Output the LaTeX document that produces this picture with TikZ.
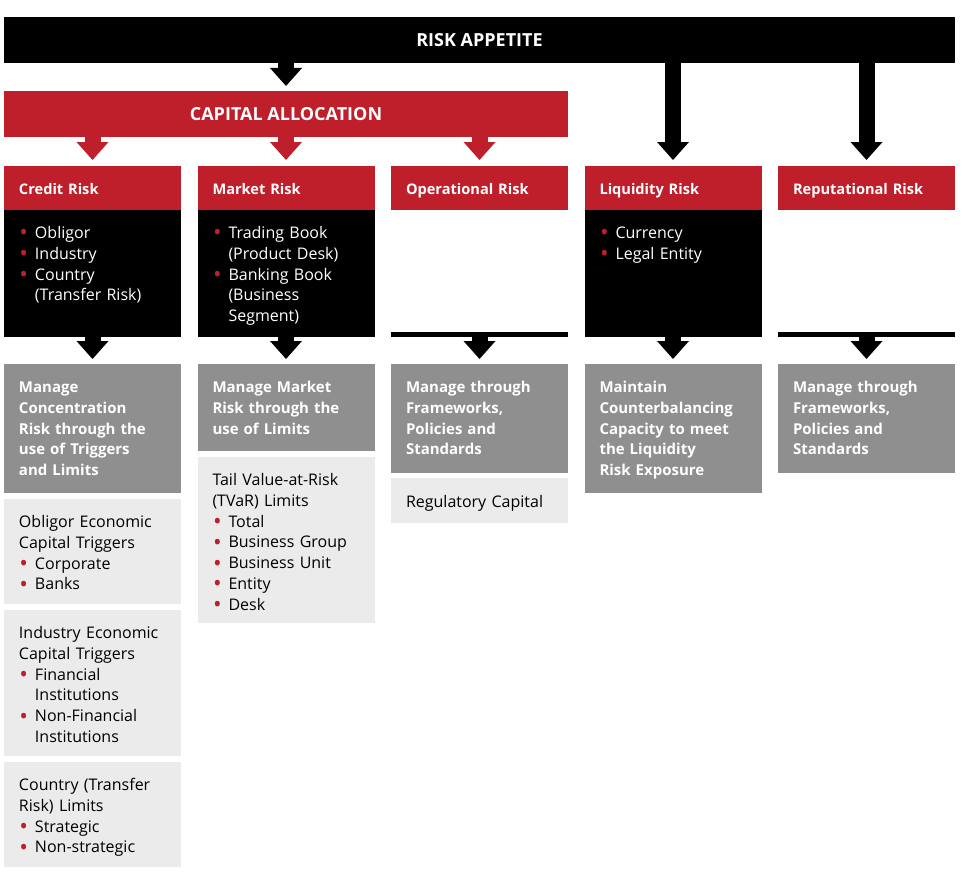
\documentclass[tikz,border=0pt]{standalone}
\usepackage{fontspec}
\setmainfont{Open Sans}
\usepackage{xcolor}
\usepackage{tikz}
\usetikzlibrary{arrows.meta,positioning}
\definecolor{rred}{HTML}{BF1E2B}
\definecolor{mgrey}{HTML}{8F8F8F}
\definecolor{lgrey}{HTML}{EBEBEB}
\newcommand{\rb}{\makebox[16pt][l]{\hspace{0.5pt}\textcolor{rred}{\raisebox{-2.4pt}{\fontsize{23}{23}\selectfont\textbullet}}}}
\newcommand{\ind}{\hspace*{16pt}}
\tikzset{topbar/.style={fill=black, text=white, font=\bfseries\fontsize{18}{22}\selectfont, minimum height=46pt, inner sep=0pt, outer sep=0pt},
         hbox/.style={fill=rred, text=white, font=\bfseries\fontsize{14.6}{20.8}\selectfont, text width=147pt, inner xsep=15pt, inner ysep=0pt, outer sep=0pt, align=left, text height=28.5pt, text depth=15.5pt},
         kbox/.style={hbox, fill=black, font=\fontsize{16}{20.8}\selectfont, text depth=98.5pt},
         kline/.style={fill=black, minimum width=177pt, minimum height=5pt, inner sep=0pt, outer sep=0pt},
         gbox/.style={hbox, fill=mgrey, font=\bfseries\fontsize{15}{20.8}\selectfont},
         lbox/.style={hbox, fill=lgrey, text=black, font=\fontsize{16}{20.8}\selectfont},
         barr/.style={line width=16pt, black, -{Triangle[width=32pt,length=18pt,line width=0pt]}, shorten >=5pt},
         rarr/.style={barr, rred, shorten >=6pt}}
\begin{document}
\begin{tikzpicture}[x=1pt, y=-1pt]
\useasboundingbox (0,0) rectangle (962,875);
\node[topbar, minimum width=951pt] (ra) at (479.5,40) {RISK APPETITE};
\node[topbar, fill=rred, minimum width=564pt] (ca) at (286,114) {CAPITAL ALLOCATION};
% risk headers
\node[hbox, anchor=north west] (cr) at (4,166) {Credit Risk};
\node[hbox, right=16.5pt of cr] (mr) {Market Risk};
\node[hbox, right=16.5pt of mr] (or) {Operational Risk};
\node[hbox, right=16.5pt of or] (lr) {Liquidity Risk};
\node[hbox, right=16.5pt of lr] (rr) {Reputational Risk};
\draw[barr] (ra.south -| ca.north) -- (ca.north);
\draw[rarr] (ca.south -| cr.north) -- (cr.north);
\draw[rarr] (ca.south -| mr.north) -- (mr.north);
\draw[rarr] (ca.south -| or.north) -- (or.north);
\draw[barr, shorten >=6pt] (ra.south -| lr.north) -- (lr.north);
\draw[barr, shorten >=6pt] (ra.south -| rr.north) -- (rr.north);
% dimensions
\node[kbox, below=0pt of cr] (crk) {\rb Obligor\\\rb Industry\\\rb Country\\\ind(Transfer Risk)};
\node[kbox, below=0pt of mr] (mrk) {\rb Trading Book\\\ind(Product Desk)\\\rb Banking Book\\\ind(Business\\\ind Segment)};
\node[kline, below=122pt of or] (ork) {};
\node[kbox, below=0pt of lr] (lrk) {\rb Currency\\\rb Legal Entity};
\node[kline, below=122pt of rr] (rrk) {};
% how it is managed
\node[gbox, text depth=100.5pt, below=27pt of crk] (crg) {Manage\\Concentration\\Risk through the\\use of Triggers\\and Limits};
\node[gbox, text depth=58.5pt, below=27pt of mrk] (mrg) {Manage Market\\Risk through the\\use of Limits};
\node[gbox, text depth=80.5pt, below=27pt of ork] (org) {Manage through\\Frameworks,\\Policies and\\Standards};
\node[gbox, text depth=100.5pt, below=27pt of lrk] (lrg) {Maintain\\Counterbalancing\\Capacity to meet\\the Liquidity\\Risk Exposure};
\node[gbox, text depth=80.5pt, below=27pt of rrk] (rrg) {Manage through\\Frameworks,\\Policies and\\Standards};
\foreach \c in {cr,mr,or,lr,rr}
  \draw[barr] (\c k.south) -- (\c g.north);
% limits
\node[lbox, text depth=76.5pt, below=6pt of crg] (cl1) {Obligor Economic\\Capital Triggers\\\rb Corporate\\\rb Banks};
\node[lbox, text depth=117.5pt, below=6pt of cl1] (cl2) {Industry Economic\\Capital Triggers\\\rb Financial\\\ind Institutions\\\rb Non-Financial\\\ind Institutions};
\node[lbox, text depth=76.5pt, below=6pt of cl2] (cl3) {Country (Transfer\\Risk) Limits\\\rb Strategic\\\rb Non-strategic};
\node[lbox, text depth=137.5pt, below=6pt of mrg] (ml) {Tail Value-at-Risk\\(TVaR) Limits\\\rb Total\\\rb Business Group\\\rb Business Unit\\\rb Entity\\\rb Desk};
\node[lbox, text height=29.5pt, text depth=15.5pt, below=5pt of org] (ol) {Regulatory Capital};
\end{tikzpicture}
\end{document}
